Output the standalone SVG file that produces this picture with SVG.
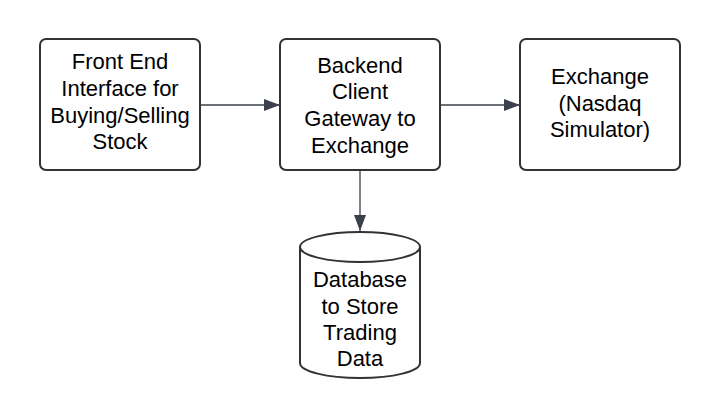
<svg xmlns="http://www.w3.org/2000/svg" width="720" height="418" viewBox="0 0 720 418">
<style>
.box{fill:#fff;stroke:#333;stroke-width:2}
.lbl{font-family:"Liberation Sans",Arial,sans-serif;font-size:22px;fill:#000;text-anchor:middle}
.conn{stroke:#3a414a;stroke-width:1.3;fill:none}
</style>
<defs>
<marker id="ah" markerWidth="16" markerHeight="12" refX="16" refY="6" orient="auto" markerUnits="userSpaceOnUse" viewBox="0 0 16 12">
<path d="M0,0 L16,6 L0,12 Z" fill="#3a414a"/>
</marker>
</defs>
<rect width="720" height="418" fill="#fff"/>
<g id="connectors">
<line class="conn" x1="200" y1="105" x2="280" y2="105" marker-end="url(#ah)"/>
<line class="conn" x1="440" y1="105" x2="520" y2="105" marker-end="url(#ah)"/>
<line class="conn" x1="360" y1="170" x2="360" y2="231" marker-end="url(#ah)"/>
</g>
<g id="frontend">
<rect class="box" x="40" y="39" width="160" height="131" rx="6"/>
<text class="lbl" x="120" y="69">Front End</text>
<text class="lbl" x="120" y="96">Interface for</text>
<text class="lbl" x="120" y="123">Buying/Selling</text>
<text class="lbl" x="120" y="149">Stock</text>
</g>
<g id="backend">
<rect class="box" x="280" y="39" width="160" height="131" rx="6"/>
<text class="lbl" x="360" y="73">Backend</text>
<text class="lbl" x="360" y="99">Client</text>
<text class="lbl" x="360" y="126">Gateway to</text>
<text class="lbl" x="360" y="153">Exchange</text>
</g>
<g id="exchange">
<rect class="box" x="520" y="39" width="160" height="131" rx="6"/>
<text class="lbl" x="600" y="84">Exchange</text>
<text class="lbl" x="600" y="111">(Nasdaq</text>
<text class="lbl" x="600" y="137">Simulator)</text>
</g>
<g id="database">
<path class="box" d="M300,247 A60,15 0 0 1 420,247 L420,363 A60,15 0 0 1 300,363 Z"/>
<path class="box" style="fill:none" d="M300,247 A60,15 0 0 0 420,247"/>
<text class="lbl" x="360" y="287">Database</text>
<text class="lbl" x="360" y="314">to Store</text>
<text class="lbl" x="360" y="340">Trading</text>
<text class="lbl" x="360" y="366">Data</text>
</g>
</svg>
